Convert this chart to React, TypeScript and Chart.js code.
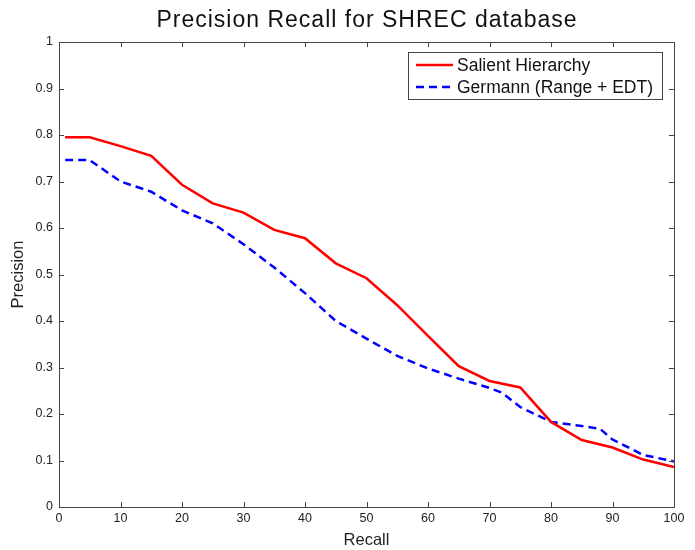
import React, { useEffect, useRef } from "react";
import { Chart, registerables } from "chart.js";

Chart.register(...registerables);

const titleText = "Precision Recall for SHREC database";
const xLabel = "Recall";
const yLabel = "Precision";
const seriesNames = ["Salient Hierarchy", "Germann (Range + EDT)"];

const salientX = [1, 5, 10, 15, 20, 25, 30, 35, 40, 45, 50, 55, 60, 65, 70, 75, 80, 85, 90, 95, 100];
const salientY = [0.795, 0.795, 0.776, 0.755, 0.693, 0.653, 0.633, 0.596, 0.578, 0.524, 0.492, 0.434, 0.368, 0.303, 0.271, 0.257, 0.183, 0.144, 0.128, 0.102, 0.086];

const germannX = [1, 5, 10, 15, 20, 25, 30, 35, 40, 45, 50, 55, 60, 65, 70, 72, 75, 80, 85, 88, 90, 95, 100];
const germannY = [0.746, 0.746, 0.700, 0.678, 0.638, 0.610, 0.565, 0.515, 0.460, 0.400, 0.362, 0.325, 0.298, 0.276, 0.256, 0.246, 0.215, 0.183, 0.174, 0.168, 0.145, 0.112, 0.098];

const xTicks = [0, 10, 20, 30, 40, 50, 60, 70, 80, 90, 100];
const yTicks = [0, 0.1, 0.2, 0.3, 0.4, 0.5, 0.6, 0.7, 0.8, 0.9, 1];

const FONT = "'Liberation Sans', Arial, Helvetica, sans-serif";

const framePlugin = {
  id: "frame",
  afterDraw(chart: any) {
    const { ctx, chartArea } = chart;
    const { left, right, top, bottom } = chartArea;
    const xs = chart.scales.x;
    const ys = chart.scales.y;
    ctx.save();
    ctx.strokeStyle = "#444";
    ctx.lineWidth = 1;
    ctx.beginPath();
    ctx.rect(left + 0.5, top + 0.5, right - left, bottom - top);
    ctx.stroke();
    const tl = 5;
    ctx.beginPath();
    for (const v of xTicks) {
      const px = Math.round(xs.getPixelForValue(v)) + 0.5;
      ctx.moveTo(px, bottom);
      ctx.lineTo(px, bottom - tl);
      ctx.moveTo(px, top);
      ctx.lineTo(px, top + tl);
    }
    for (const v of yTicks) {
      const py = Math.round(ys.getPixelForValue(v)) + 0.5;
      ctx.moveTo(left, py);
      ctx.lineTo(left + tl, py);
      ctx.moveTo(right, py);
      ctx.lineTo(right - tl, py);
    }
    ctx.stroke();

    // title
    ctx.save();
    ctx.fillStyle = "#111";
    ctx.font = `23px ${FONT}`;
    try {
      (ctx as any).letterSpacing = "1px";
    } catch (e) {}
    ctx.textAlign = "center";
    ctx.textBaseline = "middle";
    ctx.fillText(titleText, (left + right) / 2 + 0.5, 21);
    ctx.restore();

    // legend
    const bx = 408, by = 52, bw = 254, bh = 47;
    ctx.fillStyle = "#fff";
    ctx.fillRect(bx, by, bw, bh);
    ctx.strokeStyle = "#444";
    ctx.strokeRect(bx + 0.5, by + 0.5, bw, bh);
    const rows = [
      { y: 65, color: "#ff0000", dash: [] as number[] },
      { y: 87, color: "#0000ff", dash: [8, 5] },
    ];
    rows.forEach((r, i) => {
      ctx.save();
      ctx.strokeStyle = r.color;
      ctx.lineWidth = 2.5;
      ctx.setLineDash(r.dash);
      ctx.beginPath();
      ctx.moveTo(416, r.y);
      ctx.lineTo(453, r.y);
      ctx.stroke();
      ctx.restore();
      ctx.fillStyle = "#111";
      ctx.font = `17.5px ${FONT}`;
      ctx.textAlign = "left";
      ctx.textBaseline = "middle";
      ctx.fillText(seriesNames[i], 457, r.y + 1);
    });
    ctx.restore();
  },
};

export default function App() {
  const ref = useRef<HTMLCanvasElement | null>(null);
  useEffect(() => {
    document.body.style.margin = "0";
    const canvas = ref.current!;
    const chart = new Chart(canvas, {
      type: "line",
      data: {
        datasets: [
          {
            label: seriesNames[0],
            data: salientX.map((x, i) => ({ x, y: salientY[i] })),
            borderColor: "#ff0000",
            borderWidth: 2.5,
            pointRadius: 0,
            fill: false,
            tension: 0,
          },
          {
            label: seriesNames[1],
            data: germannX.map((x, i) => ({ x, y: germannY[i] })),
            borderColor: "#0000ff",
            borderWidth: 2.5,
            borderDash: [8, 5],
            pointRadius: 0,
            fill: false,
            tension: 0,
          },
        ],
      },
      options: {
        responsive: false,
        animation: false,
        layout: { padding: { top: 42, right: 21, left: 0, bottom: 0 } },
        plugins: { legend: { display: false }, title: { display: false }, tooltip: { enabled: false } },
        scales: {
          x: {
            type: "linear",
            min: 0,
            max: 100,
            afterBuildTicks: (s: any) => {
              s.ticks = xTicks.map((v) => ({ value: v }));
            },
            afterFit: (s: any) => {
              s.height = 43;
            },
            grid: { display: false, drawTicks: false },
            border: { display: false },
            ticks: { color: "#222", font: { family: FONT, size: 12.5 }, padding: 4, maxRotation: 0, autoSkip: false },
            title: { display: true, text: xLabel, color: "#222", font: { family: FONT, size: 16.5 }, padding: { top: 0, bottom: 0 } },
          },
          y: {
            type: "linear",
            min: 0,
            max: 1,
            afterBuildTicks: (s: any) => {
              s.ticks = yTicks.map((v) => ({ value: v }));
            },
            afterFit: (s: any) => {
              s.width = 59;
            },
            grid: { display: false, drawTicks: false },
            border: { display: false },
            ticks: {
              color: "#222",
              font: { family: FONT, size: 12.5 },
              padding: 6,
              autoSkip: false,
              callback: (v: any) => String(Math.round(Number(v) * 10) / 10),
            },
            title: { display: true, text: yLabel, color: "#222", font: { family: FONT, size: 16.5 }, padding: { top: 9, bottom: 0 } },
          },
        },
      },
      plugins: [framePlugin],
    } as any);
    return () => chart.destroy();
  }, []);
  return (
    <div style={{ width: 695, height: 550, background: "#fff" }}>
      <canvas ref={ref} width={695} height={550} style={{ display: "block" }} />
    </div>
  );
}
